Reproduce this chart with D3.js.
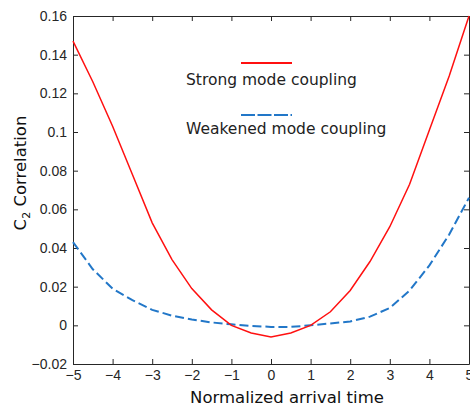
<!DOCTYPE html>
<html>
<head>
<meta charset="utf-8">
<script src="https://cdn.jsdelivr.net/npm/d3@7"></script>
<style>
  body { margin: 0; background: #fff; }
  .tick text { font-family: "Liberation Sans", Arial, sans-serif; font-size: 14px; fill: #262626; }
</style>
</head>
<body>
<div id="chart"></div>
<script>
var times = [-5, -4.5, -4, -3.5, -3, -2.5, -2, -1.5, -1, -0.5, 0, 0.5, 1, 1.5, 2, 2.5, 3, 3.5, 4, 4.5, 5];
var strongVals = [0.147, 0.126, 0.103, 0.078, 0.053, 0.034, 0.019, 0.008, 0.0, -0.004, -0.006, -0.004, 0.0, 0.007, 0.018, 0.033, 0.051, 0.073, 0.101, 0.129, 0.16];
var weakVals = [0.043, 0.029, 0.019, 0.013, 0.008, 0.005, 0.003, 0.0015, 0.0005, -0.0003, -0.0008, -0.0008, 0.0, 0.001, 0.002, 0.0045, 0.009, 0.018, 0.031, 0.047, 0.066];
var xTicks = [-5, -4, -3, -2, -1, 0, 1, 2, 3, 4, 5];
var yTicks = [-0.02, 0, 0.02, 0.04, 0.06, 0.08, 0.1, 0.12, 0.14, 0.16];
var seriesNames = ["Strong mode coupling", "Weakened mode coupling"];

var W = 470, H = 406;
var margin = {top: 16, right: 1, bottom: 42, left: 73};
var width = W - margin.left - margin.right,
    height = H - margin.top - margin.bottom;

var svg = d3.select("#chart").append("svg")
    .attr("width", W)
    .attr("height", H);

var x = d3.scaleLinear().domain([-5, 5]).range([0, width]);
var y = d3.scaleLinear().domain([-0.02, 0.16]).range([height, 0]);

var g = svg.append("g")
    .attr("transform", "translate(" + margin.left + "," + margin.top + ")");

var fmt = function (d) { return d3.format("")(+d.toFixed(2)); };

function styleAxis(sel) {
    sel.select(".domain").attr("stroke", "#262626").attr("stroke-width", 1);
    sel.selectAll(".tick line").attr("stroke", "#262626");
}

// box axes, ticks pointing inward
g.append("g")
    .attr("transform", "translate(0," + height + ")")
    .call(d3.axisBottom(x).tickValues(xTicks).tickSize(-5).tickSizeOuter(0).tickPadding(6).tickFormat(fmt))
    .call(styleAxis);
g.append("g")
    .call(d3.axisTop(x).tickValues(xTicks).tickSize(-5).tickSizeOuter(0).tickFormat(""))
    .call(styleAxis);
g.append("g")
    .call(d3.axisLeft(y).tickValues(yTicks).tickSize(-5).tickSizeOuter(0).tickPadding(6).tickFormat(fmt))
    .call(styleAxis);
g.append("g")
    .attr("transform", "translate(" + width + ",0)")
    .call(d3.axisRight(y).tickValues(yTicks).tickSize(-5).tickSizeOuter(0).tickFormat(""))
    .call(styleAxis);

var line = d3.line()
    .x(function (d, i) { return x(times[i]); })
    .y(function (d) { return y(d); });

g.append("path")
    .datum(weakVals)
    .attr("fill", "none")
    .attr("stroke", "#2277c8")
    .attr("stroke-width", 2)
    .attr("stroke-dasharray", "9,4")
    .attr("d", line);

g.append("path")
    .datum(strongVals)
    .attr("fill", "none")
    .attr("stroke", "#ff1010")
    .attr("stroke-width", 1.5)
    .attr("d", line);

// legend
var legend = svg.append("g").attr("font-family", "'DejaVu Sans', Verdana, sans-serif").attr("font-size", "14px").attr("fill", "#222");
legend.append("line").attr("x1", 241).attr("x2", 292).attr("y1", 63).attr("y2", 63)
    .attr("stroke", "#ff1010").attr("stroke-width", 2);
var t1 = legend.append("text").attr("x", 186).attr("y", 85).text(seriesNames[0]);
legend.append("line").attr("x1", 241).attr("x2", 292).attr("y1", 115).attr("y2", 115)
    .attr("stroke", "#2277c8").attr("stroke-width", 2).attr("stroke-dasharray", "14,2.5");
legend.append("text").attr("x", 186).attr("y", 134).text(seriesNames[1]);

// fit legend font so the first entry is about as wide as in the original
var len = t1.node().getComputedTextLength();
if (len > 0) legend.attr("font-size", (14 * 171 / len).toFixed(2) + "px");

// axis labels
svg.append("text")
    .attr("x", 287)
    .attr("y", 403)
    .attr("text-anchor", "middle")
    .attr("font-family", "'DejaVu Sans', Verdana, sans-serif")
    .attr("font-size", "16.5px")
    .attr("fill", "#111")
    .text("Normalized arrival time");

var ylab = svg.append("text")
    .attr("transform", "translate(26,173) rotate(-90)")
    .attr("text-anchor", "middle")
    .attr("font-family", "'DejaVu Sans', Verdana, sans-serif")
    .attr("font-size", "16.5px")
    .attr("fill", "#111");
ylab.append("tspan").text("C");
ylab.append("tspan").attr("font-size", "11px").attr("dy", 4).text("2");
ylab.append("tspan").attr("dy", -4).text(" Correlation");
</script>
</body>
</html>
